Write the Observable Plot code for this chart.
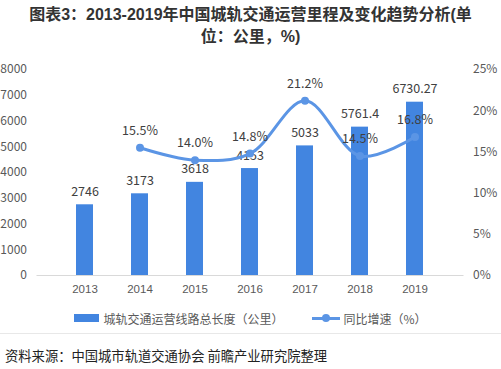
<!DOCTYPE html>
<html><head><meta charset="utf-8">
<script src="https://cdn.jsdelivr.net/npm/d3@7"></script>
<script src="https://cdn.jsdelivr.net/npm/@observablehq/plot@0.6"></script>
<style>
body{margin:0;background:#fff;font-family:"Noto Sans CJK SC","Liberation Sans",sans-serif;width:501px;overflow:hidden}
#title{height:51px;padding-top:4px;text-align:center;font-weight:bold;font-size:16px;line-height:22px;color:#333;font-family:"Liberation Sans","Noto Sans CJK SC",sans-serif}
#legend{height:26px;display:flex;justify-content:center;align-items:center;font-size:12px;color:#595959;border-bottom:1px solid #e8e8e8;padding-bottom:2px}
.sw{display:inline-block;width:25px;height:8px;background:#4285e0;margin-right:4px}
.ln{display:inline-block;position:relative;width:28px;height:3px;background:#5b95e5;margin-right:3px;margin-left:29px}
.ln::after{content:"";position:absolute;left:10px;top:-2.5px;width:8px;height:8px;border-radius:50%;background:#5b95e5}
#src{font-size:13.3px;color:#222;padding-left:5px;margin-top:12px}
</style></head><body>
<div id="title">图表3：2013-2019年中国城轨交通运营里程及变化趋势分析(单<br>位：公里，%)</div>
<div id="chart"></div>
<div id="legend"><span class="sw"></span>城轨交通运营线路总长度（公里）<span class="ln"></span>同比增速（%）</div>
<div id="src">资料来源：中国城市轨道交通协会 前瞻产业研究院整理</div>
<script>
const years = ["2013","2014","2015","2016","2017","2018","2019"];
const lengthKm = [2746, 3173, 3618, 4153, 5033, 5761.4, 6730.27];
const lengthLabels = ["2746","3173","3618","4153","5033","5761.4","6730.27"];
const growthYears = ["2014","2015","2016","2017","2018","2019"];
const growthPct = [15.5, 14.0, 14.8, 21.2, 14.5, 16.8];
const leftTicks = [0,1000,2000,3000,4000,5000,6000,7000,8000];
const rightTicks = [0,5,10,15,20,25];

const yMax = 8000, pMax = 25;
const toY = p => p / pMax * yMax;
const bars = years.map((y,i)=>({year:y, v:lengthKm[i], label:lengthLabels[i]}));
const line = growthYears.map((y,i)=>({year:y, v:toY(growthPct[i]), label:growthPct[i].toFixed(1)+"%"}));

const plot = Plot.plot({
  width: 501, height: 250,
  marginTop: 14, marginBottom: 30, marginLeft: 36.5, marginRight: 37.5,
  style: {fontFamily: "'Noto Sans CJK SC','Liberation Sans',sans-serif", fontSize: "12px", color: "#595959", background: "transparent"},
  x: {domain: years, padding: 0.69, label: null},
  y: {domain: [0, yMax], label: null},
  marks: [
    Plot.axisX({tickSize: 0, tickPadding: 9, fontSize: 11.5, fill: "#595959", fontFamily: "'Liberation Sans',sans-serif"}),
    Plot.axisY({ticks: leftTicks, tickFormat: d => String(d), tickSize: 0, tickPadding: 10, label: null, fill: "#595959"}),
    Plot.axisY({anchor: "right", ticks: rightTicks.map(toY), tickFormat: d => Math.round(d / yMax * pMax) + "%", tickSize: 0, tickPadding: 9, label: null, fill: "#595959"}),
    Plot.barY(bars, {x: "year", y: "v", fill: "#4285e0"}),
    Plot.ruleY([0], {stroke: "#d9d9d9", strokeWidth: 1}),
    Plot.text(bars, {x: "year", y: "v", text: "label", dy: -13, fill: "#404040", fontSize: 12.5}),
    Plot.line(line, {x: "year", y: "v", stroke: "#5b95e5", strokeWidth: 3, curve: "catmull-rom"}),
    Plot.dot(line, {x: "year", y: "v", r: 4, fill: "#5b95e5"}),
    Plot.text(line, {x: "year", y: "v", text: "label", dy: -17, fill: "#404040", fontSize: 12.5})
  ]
});
document.getElementById("chart").appendChild(plot);
</script>
</body></html>
